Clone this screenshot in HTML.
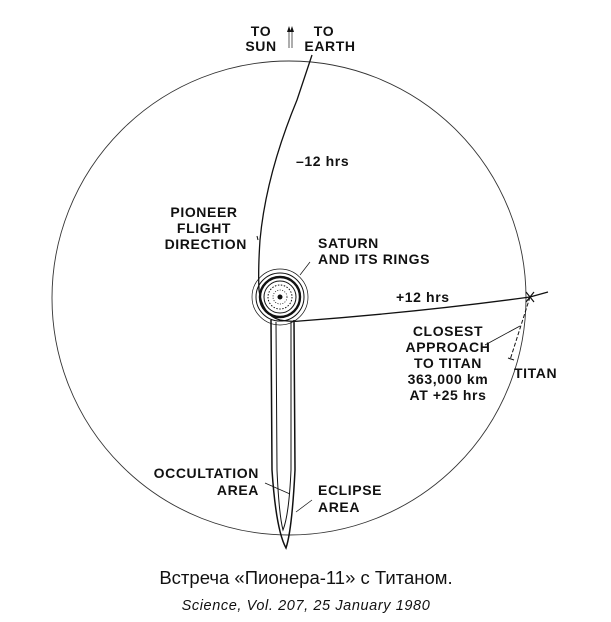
<!DOCTYPE html>
<html><head><style>
body{margin:0;background:#fff;width:611px;height:622px;overflow:hidden}
svg{display:block}
.t{font-family:"Liberation Sans",sans-serif;font-weight:bold;font-size:14px;letter-spacing:0.6px;fill:#111}
</style></head><body>
<svg width="611" height="622" viewBox="0 0 611 622">
<circle cx="289" cy="298" r="237" fill="none" stroke="#333" stroke-width="0.9"/>
<g fill="none" stroke="#111">
<circle cx="280" cy="297" r="28" stroke-width="0.7"/>
<circle cx="280" cy="297" r="24" stroke-width="1"/>
<circle cx="280" cy="297" r="20" stroke-width="2.4"/>
<circle cx="280" cy="297" r="16" stroke-width="1"/>
<circle cx="280" cy="297" r="12" stroke-width="1" stroke-dasharray="1.5 1.5"/>
<circle cx="280" cy="297" r="7" stroke-width="0.8" stroke-dasharray="1 1.5"/>
</g>
<circle cx="280" cy="297" r="2.5" fill="#111"/>
<path d="M312,55 L297,100 Q266,175 260,240 Q258,270 259,290 Q262,315 280,320 Q292,322 300,321 Q420,312 530,297 L548,292" fill="none" stroke="#111" stroke-width="1.3"/>
<path d="M271,320 L272,470 Q276,530 286,548 Q292,530 295,470 L294,320" fill="none" stroke="#111" stroke-width="1.5"/>
<path d="M276,322 L277,470 Q279,515 283,530 Q289,515 291,470 L291,322" fill="none" stroke="#111" stroke-width="1"/>
<path d="M289,48 V30 M292,48 V30" stroke="#333" stroke-width="0.8"/>
<path d="M287,32 L289,26 L291,32Z M290,32 L292,26 L294,32Z" fill="#111"/>
<path d="M530,297 L510,360" stroke="#111" stroke-width="1" stroke-dasharray="4 2"/>
<path d="M526,292 L534,302 M526,302 L534,292" stroke="#111" stroke-width="1.2"/>
<path d="M508,358 L514,360" stroke="#111" stroke-width="1"/>
<path d="M485,345 L520,326" stroke="#111" stroke-width="0.8"/>
<path d="M310,262 L300,275" stroke="#111" stroke-width="0.7"/>
<path d="M265,483 L290,494" stroke="#111" stroke-width="0.7"/>
<path d="M312,500 L296,512" stroke="#111" stroke-width="0.7"/>
<path d="M258,240 L257,236" stroke="#111" stroke-width="1"/>
<text class="t" x="261" y="36" text-anchor="middle">TO</text>
<text class="t" x="261" y="51" text-anchor="middle">SUN</text>
<text class="t" x="324" y="36" text-anchor="middle">TO</text>
<text class="t" x="330" y="51" text-anchor="middle">EARTH</text>
<text class="t" x="296" y="166">–12 hrs</text>
<text class="t" x="204" y="217" text-anchor="middle">PIONEER</text>
<text class="t" x="204" y="233" text-anchor="middle">FLIGHT</text>
<text class="t" x="247" y="249" text-anchor="end">DIRECTION</text>
<text class="t" x="318" y="248">SATURN</text>
<text class="t" x="318" y="264">AND ITS RINGS</text>
<text class="t" x="396" y="302">+12 hrs</text>
<text class="t" x="448" y="336" text-anchor="middle">CLOSEST</text>
<text class="t" x="448" y="352" text-anchor="middle">APPROACH</text>
<text class="t" x="448" y="368" text-anchor="middle">TO TITAN</text>
<text class="t" x="448" y="384" text-anchor="middle">363,000 km</text>
<text class="t" x="448" y="400" text-anchor="middle">AT +25 hrs</text>
<text class="t" x="514" y="378">TITAN</text>
<text class="t" x="259" y="478" text-anchor="end">OCCULTATION</text>
<text class="t" x="259" y="495" text-anchor="end">AREA</text>
<text class="t" x="318" y="495">ECLIPSE</text>
<text class="t" x="318" y="512">AREA</text>
<text x="306" y="584" text-anchor="middle" style="font-family:'Liberation Sans',sans-serif;font-size:18.5px;fill:#111">Встреча «Пионера-11» с Титаном.</text>
<text x="306" y="610" text-anchor="middle" style="font-family:'Liberation Sans',sans-serif;font-size:14.5px;letter-spacing:0.6px;font-style:italic;fill:#111">Science, Vol. 207, 25 January 1980</text>
</svg>
</body></html>
